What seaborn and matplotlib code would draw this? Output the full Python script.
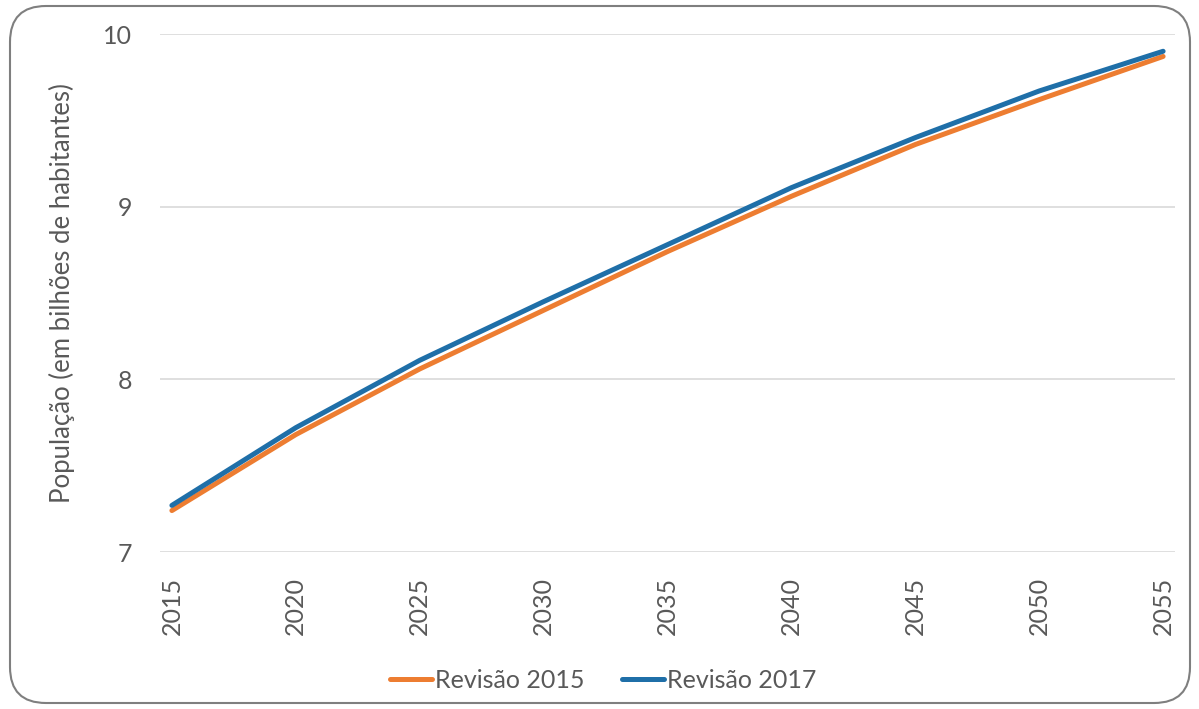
import matplotlib
matplotlib.use("Agg")
import matplotlib.pyplot as plt
from matplotlib.patches import FancyBboxPatch
from matplotlib.lines import Line2D
import seaborn as sns
import pandas as pd

years = [2015, 2020, 2025, 2030, 2035, 2040, 2045, 2050, 2055]
rev2015 = [7.24, 7.68, 8.06, 8.40, 8.74, 9.06, 9.36, 9.62, 9.87]
rev2017 = [7.27, 7.72, 8.11, 8.45, 8.78, 9.11, 9.40, 9.67, 9.90]
series_names = ["Revisão 2015", "Revisão 2017"]
x_ticks = [2015, 2020, 2025, 2030, 2035, 2040, 2045, 2050, 2055]
y_ticks = [7, 8, 9, 10]
y_label = "População (em bilhões de habitantes)"

df = pd.DataFrame({
    "Ano": years * 2,
    "Pop": rev2015 + rev2017,
    "Serie": [series_names[0]] * len(years) + [series_names[1]] * len(years),
})

sns.set_theme(style="white")
plt.rcParams["font.family"] = ["Lato", "DejaVu Sans"]
text_col = "#595959"
fs = 18

fig = plt.figure(figsize=(11.99, 7.09), dpi=100)
fig.patch.set_facecolor("white")
border = FancyBboxPatch((10 / 1199, 6 / 709), 1180 / 1199, 697 / 709,
                        boxstyle="round,pad=0,rounding_size=0.03",
                        transform=fig.transFigure, facecolor="none",
                        edgecolor="#7f7f7f", linewidth=1.5, mutation_aspect=1199 / 709,
                        zorder=-5)
fig.patches.append(border)

ax = fig.add_axes([160 / 1199, 1 - 552 / 709, 1015 / 1199, (552 - 34) / 709])
ax.set_facecolor("none")
palette = {series_names[0]: "#ED7D31", series_names[1]: "#1F6FA8"}
sns.lineplot(data=df, x="Ano", y="Pop", hue="Serie", palette=palette,
             linewidth=3.6, ax=ax, legend=False)

ax.set_xlim(2014.52, 2055.48)
ax.set_ylim(7, 10)
ax.set_xticks(x_ticks)
ax.set_yticks(y_ticks)
ax.set_xticklabels([str(t) for t in x_ticks], rotation=90)
ax.tick_params(axis="both", length=0, labelsize=fs, colors=text_col)
ax.tick_params(axis="x", pad=18)
ax.tick_params(axis="y", pad=20)
ax.grid(axis="y", color="#d9d9d9", linewidth=1.2)
ax.grid(axis="x", visible=False)
ax.set_axisbelow(True)
for s in ax.spines.values():
    s.set_visible(False)
ax.set_xlabel("")
ax.set_ylabel(y_label, fontsize=18.5, color=text_col, labelpad=20)

handles = [Line2D([0], [0], color=palette[n], lw=3.6) for n in series_names]
fig.legend(handles, series_names, loc="center", bbox_to_anchor=(603 / 1199, 1 - 680 / 709),
           ncol=2, frameon=False, fontsize=fs, handlelength=1.7, handletextpad=0.1,
           columnspacing=1.5, labelcolor=text_col)

fig.savefig("out.png", dpi=100)
